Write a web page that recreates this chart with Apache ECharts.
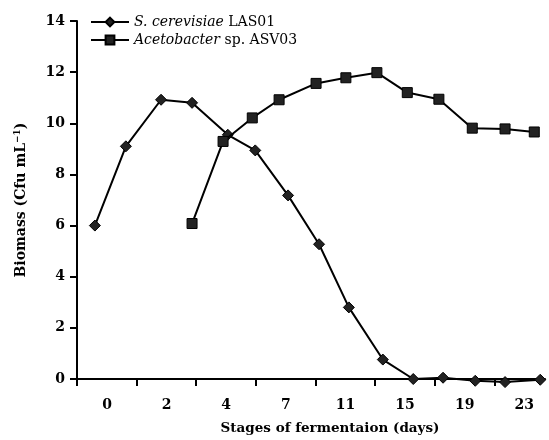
<!DOCTYPE html>
<html>
<head>
<meta charset="utf-8">
<script src="https://cdn.jsdelivr.net/npm/echarts@6/dist/echarts.min.js"></script>
<style>html,body{margin:0;padding:0;background:#fff}#c{width:549px;height:440px}</style>
</head>
<body>
<div id="c"></div>
<script>
// x positions are in "stage slot" units (tick spacing = 1 slot)
const tickLabels = ['0', '2', '4', '7', '11', '15', '19', '23'];
const yeastX = [0.30, 0.82, 1.41, 1.93, 2.53, 2.99, 3.54, 4.06, 4.56, 5.13, 5.64, 6.14, 6.68, 7.18, 7.77];
const yeastY = [6.0, 9.1, 10.92, 10.8, 9.55, 8.94, 7.18, 5.27, 2.8, 0.76, 0.0, 0.05, -0.07, -0.12, -0.03];
const acetoX = [1.93, 2.45, 2.94, 3.39, 4.01, 4.51, 5.03, 5.54, 6.07, 6.63, 7.18, 7.67];
const acetoY = [6.08, 9.29, 10.21, 10.92, 11.56, 11.78, 11.98, 11.2, 10.94, 9.81, 9.78, 9.66];
const seriesNames = ['S. cerevisiae LAS01', 'Acetobacter sp. ASV03'];

const FONT = 'DejaVu Serif';
const chart = echarts.init(document.getElementById('c'));
const zip = (xs, ys) => xs.map((x, i) => [x, ys[i]]);

chart.setOption({
  animation: false,
  backgroundColor: '#fff',
  grid: { left: 77, right: 4, top: 21, bottom: 57, containLabel: false },
  legend: {
    orient: 'vertical',
    left: 90,
    top: 15,
    padding: 0,
    itemWidth: 38,
    itemHeight: 11,
    itemGap: 4,
    data: seriesNames,
    formatter: function (name) {
      if (name === seriesNames[0]) return '{i|S. cerevisiae} LAS01';
      return '{i|Acetobacter} sp. ASV03';
    },
    textStyle: {
      fontFamily: FONT, fontSize: 14, color: '#000',
      rich: { i: { fontFamily: FONT, fontSize: 14, fontStyle: 'italic', color: '#000' } }
    }
  },
  xAxis: {
    type: 'value',
    min: 0,
    max: 7.85,
    interval: 1,
    splitLine: { show: false },
    axisLine: { onZero: false, lineStyle: { color: '#000', width: 2 } },
    axisTick: { show: true, inside: false, length: 7, lineStyle: { color: '#000', width: 2 } },
    axisLabel: {
      showMaxLabel: false,
      margin: 19,
      padding: [0, 0, 0, 60],
      fontFamily: FONT, fontWeight: 'bold', fontSize: 14, color: '#000',
      formatter: function (v) { const k = Math.round(v); return tickLabels[k] !== undefined ? tickLabels[k] : ''; }
    },
    name: 'Stages of fermentaion (days)',
    nameLocation: 'middle',
    nameGap: 42,
    nameTextStyle: { fontFamily: FONT, fontWeight: 'bold', fontSize: 13.5, color: '#000', padding: [0, 0, 0, 38] }
  },
  yAxis: {
    type: 'value',
    min: 0,
    max: 14,
    interval: 2,
    splitLine: { show: false },
    axisLine: { show: true, lineStyle: { color: '#000', width: 2 } },
    axisTick: { show: true, length: 7, lineStyle: { color: '#000', width: 2 } },
    axisLabel: { margin: 12, fontFamily: FONT, fontWeight: 'bold', fontSize: 14, color: '#000' },
    name: 'Biomass (Cfu mL{sup|−1})',
    nameLocation: 'middle',
    nameGap: 47,
    nameRotate: 90,
    nameTextStyle: {
      fontFamily: FONT, fontWeight: 'bold', fontSize: 14, color: '#000',
      rich: { sup: { fontFamily: FONT, fontWeight: 'bold', fontSize: 9, color: '#000', verticalAlign: 'top', padding: [0, 0, 8, 0] } }
    }
  },
  series: [
    {
      name: seriesNames[0],
      type: 'line',
      data: zip(yeastX, yeastY),
      symbol: 'diamond',
      symbolSize: 11,
      clip: false,
      lineStyle: { color: '#000', width: 2 },
      itemStyle: { color: '#222', borderColor: '#000', borderWidth: 1 },
      z: 3
    },
    {
      name: seriesNames[1],
      type: 'line',
      data: zip(acetoX, acetoY),
      symbol: 'rect',
      symbolSize: 10,
      clip: false,
      lineStyle: { color: '#000', width: 2 },
      itemStyle: { color: '#222', borderColor: '#000', borderWidth: 1 },
      z: 4
    }
  ]
});
</script>
</body>
</html>
